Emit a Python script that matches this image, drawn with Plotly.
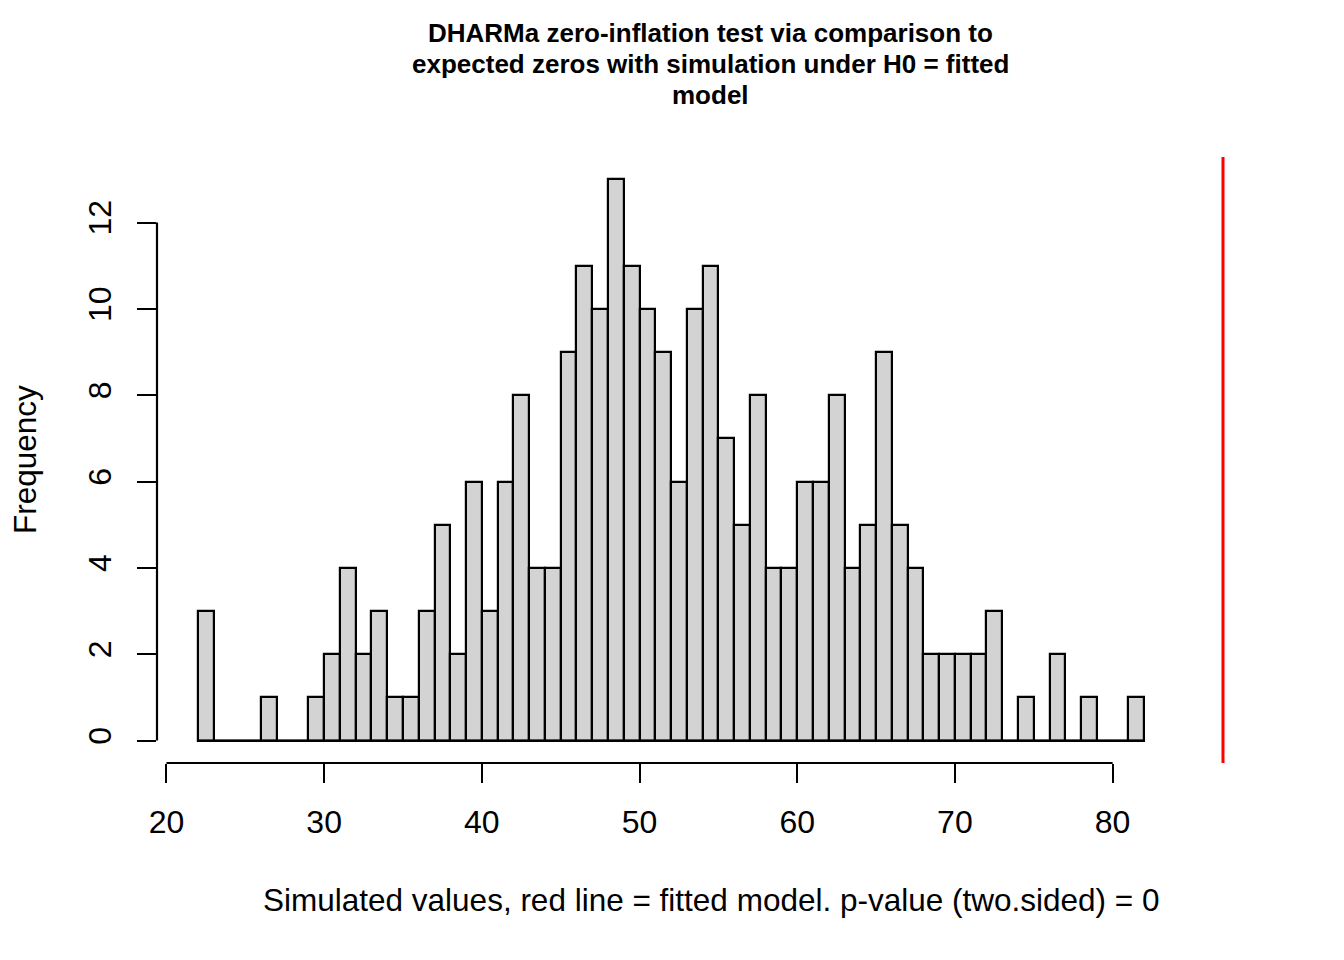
import plotly.graph_objects as go

# Histogram data: bin lower edges (width 1) and counts
bin_starts = list(range(22, 82))
counts = [3, 0, 0, 0, 1, 0, 0, 1, 2, 4,
          2, 3, 1, 1, 3, 5, 2, 6, 3, 6,
          8, 4, 4, 9, 11, 10, 13, 11, 10, 9,
          6, 10, 11, 7, 5, 8, 4, 4, 6, 6,
          8, 4, 5, 9, 5, 4, 2, 2, 2, 2,
          3, 0, 1, 0, 2, 0, 1, 0, 0, 1]
observed = 87
x_ticks = [20, 30, 40, 50, 60, 70, 80]
y_ticks = [0, 2, 4, 6, 8, 10, 12]

title_lines = ["DHARMa zero-inflation test via comparison to",
               "expected zeros with simulation under H0 = fitted",
               "model"]
x_title = "Simulated values, red line = fitted model. p-value (two.sided) = 0"
y_title = "Frequency"

FONT = "Liberation Sans, Arial, sans-serif"
LW = 2.2

# R-like axis ranges (4% extension)
xmin = min(bin_starts[0], observed)
xmax = max(bin_starts[-1] + 1, observed)
xpad = (xmax - xmin) * 0.04
ymax = max(counts)
ypad = ymax * 0.04
xr = [xmin - xpad, xmax + xpad]
yr = [-ypad, ymax + ypad]

centers = [b + 0.5 for b in bin_starts]

fig = go.Figure()
# baseline for empty bins
fig.add_trace(go.Scatter(x=[bin_starts[0], bin_starts[-1] + 1], y=[0, 0], mode="lines",
                         line=dict(color="black", width=LW), hoverinfo="skip", showlegend=False))
fig.add_trace(go.Bar(x=centers, y=counts, width=1,
                     marker=dict(color="#D3D3D3", line=dict(color="black", width=LW)),
                     showlegend=False))

W, H = 1344, 960
L, R, T, B = 157, 80, 157, 197

fig.update_layout(
    width=W, height=H,
    margin=dict(l=L, r=R, t=T, b=B),
    paper_bgcolor="white", plot_bgcolor="white",
    font=dict(family=FONT, color="black", size=32),
    bargap=0,
    xaxis=dict(range=xr, tickvals=x_ticks, ticks="outside", ticklen=19, tickwidth=LW,
               tickcolor="black", showgrid=False, zeroline=False, showline=False,
               tickfont=dict(size=32), ticklabelstandoff=12),
    yaxis=dict(range=yr, tickvals=y_ticks, ticks="outside", ticklen=19, tickwidth=LW,
               tickcolor="black", showgrid=False, zeroline=False, showline=False,
               tickangle=-90, tickfont=dict(size=32), ticklabelstandoff=13),
)

# R-style axis lines spanning first to last tick
fig.add_shape(type="line", xref="x", yref="paper", x0=x_ticks[0], x1=x_ticks[-1], y0=0, y1=0,
              line=dict(color="black", width=LW))
fig.add_shape(type="line", xref="paper", yref="y", x0=0, x1=0, y0=y_ticks[0], y1=y_ticks[-1],
              line=dict(color="black", width=LW))
# observed value red line
fig.add_shape(type="line", xref="x", yref="paper", x0=observed, x1=observed, y0=0, y1=1,
              line=dict(color="red", width=3))

plot_w = W - L - R
plot_h = H - T - B
cx = 0.5
for i, line in enumerate(title_lines):
    ypx = 33 + 31 * i  # pixel center from top
    fig.add_annotation(text="<b>" + line + "</b>", xref="paper", yref="paper",
                       x=cx, y=1 + (T - ypx) / plot_h, xanchor="center", yanchor="middle",
                       showarrow=False, font=dict(size=26, family=FONT))

fig.add_annotation(text=x_title, xref="paper", yref="paper", x=cx,
                   y=-(900 - (H - B)) / plot_h, xanchor="center", yanchor="middle",
                   showarrow=False, font=dict(size=31.5, family=FONT))
fig.add_annotation(text=y_title, xref="paper", yref="paper", x=-(L - 25) / plot_w,
                   y=0.5, xanchor="center", yanchor="middle", textangle=-90,
                   showarrow=False, font=dict(size=31.5, family=FONT))

fig.write_html("out.html", config={"displayModeBar": False},
               post_script="document.body.style.margin='0';document.body.style.overflow='hidden';")
